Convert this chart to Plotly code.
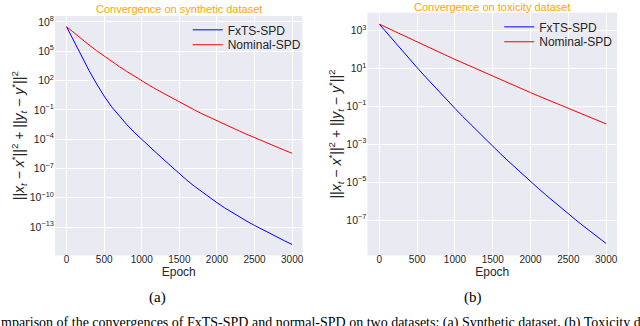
import plotly.graph_objects as go

epochs = list(range(0, 3001, 100))

# Synthetic dataset (panel a)
synthetic_fxts = [3.16e7, 8.91e5, 2.82e4, 1.0e3, 44.7, 2.51, 0.200, 0.0224, 3.16e-3, 5.01e-4,
                  8.91e-5, 1.78e-5, 3.55e-6, 7.08e-7, 1.41e-7, 2.82e-8, 6.31e-9, 1.51e-9, 3.98e-10, 1.10e-10,
                  3.16e-11, 9.55e-12, 3.09e-12, 1.07e-12, 3.89e-13, 1.48e-13, 5.75e-14, 2.29e-14, 9.33e-15, 3.89e-15,
                  1.66e-15]
synthetic_nominal = [3.16e7, 7.24e6, 1.70e6, 4.27e5, 1.12e5, 3.09e4, 8.91e3, 2.69e3, 851, 275,
                     93.3, 32.4, 11.5, 4.27, 1.58, 0.617, 0.240, 0.0977, 0.0398, 0.0170,
                     7.41e-3, 3.24e-3, 1.45e-3, 6.61e-4, 3.02e-4, 1.38e-4, 6.46e-5, 3.09e-5, 1.48e-5, 7.24e-6,
                     3.55e-6]

# Toxicity dataset (panel b)
toxicity_fxts = [2090, 708, 243, 84.7, 29.9, 10.7, 3.87, 1.42, 0.530, 0.200,
                 0.0766, 0.0296, 0.0117, 4.65e-3, 1.87e-3, 7.67e-4, 3.18e-4, 1.34e-4, 5.71e-5, 2.47e-5,
                 1.08e-5, 4.79e-6, 2.16e-6, 9.84e-7, 4.54e-7, 2.13e-7, 1.01e-7, 4.86e-8, 2.37e-8, 1.17e-8,
                 5.87e-9]
toxicity_nominal = [2090, 1349, 873, 566, 368, 240, 157, 103, 67.5, 44.4,
                    29.3, 19.4, 12.8, 8.53, 5.68, 3.79, 2.54, 1.70, 1.14, 0.771,
                    0.520, 0.352, 0.239, 0.163, 0.111, 0.0759, 0.0520, 0.0357, 0.0246, 0.0170,
                    0.0117]

x_ticks = [0, 500, 1000, 1500, 2000, 2500, 3000]
left_exps = [8, 5, 2, -1, -4, -7, -10, -13]
right_exps = [3, 1, -1, -3, -5, -7]
series_names = ["FxTS-SPD", "Nominal-SPD"]
titles = ["Convergence on synthetic dataset", "Convergence on toxicity dataset"]

def sup_label(e):
    s = str(e).replace("-", "\u2212")
    return "10<sup>" + s + "</sup>"

W, H = 640, 326
def px(x):
    return x / W
def py(y):
    return 1 - y / H

BLUE = "#0000FF"
RED = "#FF0000"
SANS = "Liberation Sans, Arial, sans-serif"
SERIF = "Liberation Serif, Times New Roman, serif"
TXT = "#262626"

fig = go.Figure()
fig.add_trace(go.Scatter(x=epochs, y=synthetic_fxts, mode="lines", name=series_names[0],
                         line=dict(color=BLUE, width=1), xaxis="x", yaxis="y", legend="legend"))
fig.add_trace(go.Scatter(x=epochs, y=synthetic_nominal, mode="lines", name=series_names[1],
                         line=dict(color=RED, width=1), xaxis="x", yaxis="y", legend="legend2"))
fig.add_trace(go.Scatter(x=epochs, y=toxicity_fxts, mode="lines", name=series_names[0],
                         line=dict(color=BLUE, width=1), xaxis="x2", yaxis="y2", legend="legend3"))
fig.add_trace(go.Scatter(x=epochs, y=toxicity_nominal, mode="lines", name=series_names[1],
                         line=dict(color=RED, width=1), xaxis="x2", yaxis="y2", legend="legend4"))

ytitle = ("||<i>x<sub>t</sub></i> \u2212 <i>x</i><sup>*</sup>||<sup>2</sup> + "
          "||<i>y<sub>t</sub></i> \u2212 <i>y</i><sup>*</sup>||<sup>2</sup>")

common_x = dict(showgrid=True, gridcolor="white", gridwidth=1, zeroline=False, showline=False,
                ticks="", ticklen=0, ticklabelstandoff=-3, tickvals=x_ticks,
                tickfont=dict(family=SANS, size=10, color=TXT),
                title=dict(text="Epoch", font=dict(family=SANS, size=12, color=TXT), standoff=0))
common_y = dict(type="log", showgrid=True, gridcolor="white", gridwidth=1, zeroline=False, showline=False,
                ticks="", ticklen=0, tickfont=dict(family=SANS, size=10.5, color=TXT),
                title=dict(text=ytitle, font=dict(family=SANS, size=14, color=TXT), standoff=1))

def leg(x, y):
    return dict(x=px(x), y=py(y), xanchor="left", yanchor="middle", bgcolor="rgba(0,0,0,0)",
                font=dict(family=SANS, size=12, color=TXT), borderwidth=0)

fig.update_layout(
    width=W, height=H, margin=dict(l=0, r=0, t=0, b=0),
    paper_bgcolor="white", plot_bgcolor="#EAEAF2",
    xaxis=dict(common_x, domain=[px(55), px(303)], range=[-155, 3138], anchor="y"),
    yaxis=dict(common_y, domain=[py(255), py(14)], range=[-15.9, 8.61], anchor="x",
               tickvals=[10.0 ** e for e in left_exps], ticktext=[sup_label(e) for e in left_exps]),
    xaxis2=dict(common_x, domain=[px(368), px(618)], range=[-158, 3144], anchor="y2"),
    yaxis2=dict(common_y, domain=[py(255), py(10.7)], range=[-8.86, 3.93], anchor="x2",
                tickvals=[10.0 ** e for e in right_exps], ticktext=[sup_label(e) for e in right_exps]),
    legend=leg(188, 28),
    legend2=leg(188, 43),
    legend3=leg(500, 25),
    legend4=leg(500, 40),
    showlegend=True,
)

annotations = [
    dict(text=titles[0], x=px(179), y=py(7.5), xref="paper", yref="paper", showarrow=False,
         font=dict(family=SANS, size=11, color="#FFA500"), xanchor="center", yanchor="middle"),
    dict(text=titles[1], x=px(493), y=py(5), xref="paper", yref="paper", showarrow=False,
         font=dict(family=SANS, size=11, color="#FFA500"), xanchor="center", yanchor="middle"),
    dict(text="(a)", x=px(158), y=py(297), xref="paper", yref="paper", showarrow=False,
         font=dict(family=SERIF, size=15, color="black"), xanchor="center", yanchor="middle"),
    dict(text="(b)", x=px(474), y=py(297), xref="paper", yref="paper", showarrow=False,
         font=dict(family=SERIF, size=15, color="black"), xanchor="center", yanchor="middle"),
    dict(text="mparison of the convergences of FxTS-SPD and normal-SPD on two datasets: (a) Synthetic dataset, (b) Toxicity dataset.",
         x=px(-1), y=py(323), xref="paper", yref="paper", showarrow=False,
         font=dict(family=SERIF, size=14, color="black"), xanchor="left", yanchor="middle"),
]
fig.update_layout(annotations=annotations)

fig.write_html("out.html", config={"displayModeBar": False},
               post_script="document.body.style.margin='0';document.body.style.overflow='hidden';")
